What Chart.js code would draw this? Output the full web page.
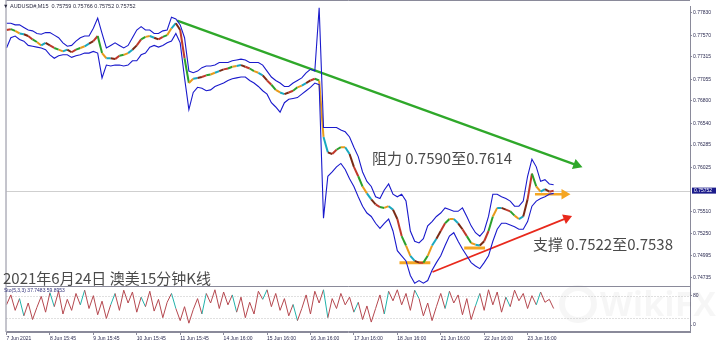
<!DOCTYPE html>
<html lang="zh-CN">
<head>
<meta charset="UTF-8" />
<title>AUDUSD M15</title>
<script src="https://cdn.jsdelivr.net/npm/chart.js"></script>
<style>
  html, body { margin: 0; padding: 0; background: #fff; }
  #wrap { width: 720px; height: 344px; }
</style>
</head>
<body>
<div id="wrap"><canvas id="myCanvas" width="720" height="344"></canvas></div>
<script>
  // x axis: one label every 10 samples
  const dateLabels = ['7 Jun 2021', '8 Jun 15:45', '9 Jun 15:45', '10 Jun 15:45', '11 Jun 15:45',
    '14 Jun 16:00', '15 Jun 16:00', '16 Jun 16:00', '17 Jun 16:00', '18 Jun 16:00',
    '21 Jun 16:00', '22 Jun 16:00', '23 Jun 16:00'];
  const samplesPerLabel = 10;

  const priceTicks = [0.77830, 0.77570, 0.77315, 0.77055, 0.76800, 0.76540, 0.76285, 0.76025,
    0.75510, 0.75250, 0.74995, 0.74735];
  const lastPrice = 0.75752;

  const closePrice = [
    0.7763, 0.7764, 0.7762, 0.7759, 0.7758, 0.7756, 0.7752, 0.7749, 0.7745, 0.7748,
    0.7745, 0.7742, 0.7740, 0.7738, 0.7740, 0.7737, 0.7740, 0.7742, 0.7744, 0.7747,
    0.7750, 0.7756, 0.7736, 0.7730, 0.7730, 0.7729, 0.7733, 0.7734, 0.7736, 0.7740,
    0.7745, 0.7752, 0.7755, 0.7756, 0.7754, 0.7752, 0.7755, 0.7757, 0.7765, 0.7771,
    0.7763, 0.7730, 0.7701, 0.7706, 0.7707, 0.7708, 0.7710, 0.7711, 0.7713, 0.7715,
    0.7717, 0.7718, 0.7720, 0.7721, 0.7722, 0.7720, 0.7718, 0.7715, 0.7713, 0.7710,
    0.7704, 0.7699, 0.7693, 0.7690, 0.7688, 0.7690, 0.7692, 0.7696, 0.7698, 0.7701,
    0.7704, 0.7706, 0.7704, 0.7638, 0.7620, 0.7618, 0.7623, 0.7626, 0.7626, 0.7618,
    0.7603, 0.7592, 0.7580, 0.7572, 0.7565, 0.7559, 0.7556, 0.7555, 0.7557, 0.7553,
    0.7542, 0.7522, 0.7511, 0.7499, 0.7493, 0.7491, 0.7491, 0.7499, 0.7511, 0.7519,
    0.7528, 0.7537, 0.7542, 0.7542, 0.7537, 0.7530, 0.7522, 0.7514, 0.7512, 0.7511,
    0.7516, 0.7528, 0.7545, 0.7555, 0.7555, 0.7553, 0.7551, 0.7546, 0.7542, 0.7545,
    0.7565, 0.7595, 0.7580, 0.7574, 0.7577, 0.7574, 0.7575
  ];

  const upperBand = [
    0.7771, 0.7771, 0.7769, 0.7769, 0.7766, 0.7763, 0.7762, 0.7759, 0.7758, 0.7760,
    0.7760, 0.7757, 0.7754, 0.7748, 0.7744, 0.7745, 0.7750, 0.7754, 0.7756, 0.7756,
    0.7765, 0.7777, 0.7759, 0.7742, 0.7745, 0.7748, 0.7745, 0.7742, 0.7745, 0.7754,
    0.7763, 0.7767, 0.7763, 0.7763, 0.7759, 0.7759, 0.7762, 0.7763, 0.7778, 0.7776,
    0.7769, 0.7754, 0.7715, 0.7713, 0.7715, 0.7719, 0.7721, 0.7721, 0.7722, 0.7725,
    0.7725, 0.7725, 0.7727, 0.7728, 0.7729, 0.7728, 0.7725, 0.7725, 0.7725, 0.7722,
    0.7715, 0.7708, 0.7704, 0.7701, 0.7697, 0.7697, 0.7701, 0.7704, 0.7707, 0.7713,
    0.7717, 0.7715, 0.7789, 0.7649, 0.7649, 0.7649, 0.7649, 0.7646, 0.7644, 0.7638,
    0.7626, 0.7615, 0.7597, 0.7586, 0.7580, 0.7568, 0.7566, 0.7576, 0.7583, 0.7571,
    0.7568, 0.7571, 0.7563, 0.7528, 0.7516, 0.7514, 0.7519, 0.7534, 0.7539, 0.7545,
    0.7549, 0.7555, 0.7553, 0.7551, 0.7551, 0.7555, 0.7545, 0.7534, 0.7526, 0.7522,
    0.7528, 0.7545, 0.7571, 0.7571, 0.7568, 0.7566, 0.7563, 0.7557, 0.7557, 0.7563,
    0.7592, 0.7612, 0.7603, 0.7586, 0.7588, 0.7583, 0.7582
  ];

  const lowerBand = [
    0.7742, 0.7754, 0.7756, 0.7752, 0.7750, 0.7745, 0.7744, 0.7743, 0.7742, 0.7740,
    0.7734, 0.7730, 0.7733, 0.7734, 0.7734, 0.7731, 0.7733, 0.7734, 0.7736, 0.7736,
    0.7738, 0.7736, 0.7707, 0.7722, 0.7721, 0.7722, 0.7722, 0.7721, 0.7722, 0.7727,
    0.7727, 0.7734, 0.7736, 0.7743, 0.7745, 0.7743, 0.7745, 0.7748, 0.7750, 0.7759,
    0.7748, 0.7707, 0.7670, 0.7690, 0.7696, 0.7695, 0.7692, 0.7693, 0.7697, 0.7699,
    0.7701, 0.7704, 0.7706, 0.7707, 0.7708, 0.7708, 0.7704, 0.7701, 0.7697, 0.7692,
    0.7688, 0.7678, 0.7673, 0.7667, 0.7678, 0.7682, 0.7683, 0.7684, 0.7688, 0.7692,
    0.7696, 0.7701, 0.7699, 0.7543, 0.7592, 0.7597, 0.7603, 0.7607, 0.7600, 0.7589,
    0.7580, 0.7568, 0.7557, 0.7549, 0.7545, 0.7537, 0.7531, 0.7537, 0.7542, 0.7528,
    0.7505, 0.7499, 0.7493, 0.7476, 0.7467, 0.7470, 0.7467, 0.7470, 0.7482, 0.7491,
    0.7499, 0.7511, 0.7522, 0.7526, 0.7516, 0.7507, 0.7499, 0.7491, 0.7487, 0.7484,
    0.7491, 0.7499, 0.7516, 0.7530, 0.7537, 0.7537, 0.7535, 0.7533, 0.7530, 0.7530,
    0.7539, 0.7557, 0.7563, 0.7566, 0.7568, 0.7571, 0.7572
  ];

  const stochMain = [
    55, 82, 40, 72, 25, 60, 15, 48, 78, 35,
    88, 50, 92, 30, 70, 40, 86, 55, 95, 45,
    80, 28, 65, 18, 55, 86, 40, 95, 60, 90,
    35, 76, 50, 92, 38, 70, 20, 62, 86, 45,
    12, 50, 5, 42, 72, 30, 86, 60, 96, 45,
    90, 55, 82, 35, 76, 20, 62, 30, 92, 70,
    96, 50, 86, 40, 72, 25, 56, 12, 45, 82,
    30, 92, 60, 96, 20, 72, 45, 86, 55, 76,
    35, 62, 15, 52, 8, 45, 82, 30, 92, 66,
    96, 55, 86, 40, 95, 72, 25, 60, 12, 50,
    86, 45, 92, 60, 82, 28, 72, 15, 52, 86,
    40, 96, 55, 90, 35, 76, 50, 95, 66, 86,
    45, 80, 55, 90, 62, 70, 45
  ];
  const stochLevels = [20, 80];

  // drawn lines: [sample index, price]
  const resistLine = [[39.3, 0.7774], [131.3, 0.7605]];
  const supportLine = [[98.1, 0.7480], [129.0, 0.7543]];
  const lastArrow = [[121.7, 0.7571], [128.5, 0.7571]];
  const lowMark1 = [[90.5, 0.7491], [97.6, 0.7491]];
  const lowMark2 = [[105.4, 0.7508], [110.2, 0.7508]];

  const clusterColors = ['#c0392b', '#2ca02c', '#e89a1a', '#19a9c0', '#7a2a14'];

  const pts = arr => arr.map((v, i) => ({ x: i, y: v }));
  const seg = arr => arr.map(p => ({ x: p[0], y: p[1] }));

  function line(data, color, width, extra) {
    return Object.assign({
      data: data, borderColor: color, borderWidth: width, pointRadius: 0,
      tension: 0, fill: false, yAxisID: 'y'
    }, extra || {});
  }

  const decor = {
    id: 'decor',
    beforeDatasetsDraw(chart) {
      const ctx = chart.ctx, a = chart.chartArea, y = chart.scales.y, y2 = chart.scales.y2;
      ctx.save();
      // watermark
      ctx.fillStyle = 'rgba(0,0,0,0.035)';
      ctx.font = 'bold 34px "Open Sans"';
      ctx.textBaseline = 'middle';
      ctx.fillText('WikiFX', 600, 306);
      ctx.strokeStyle = 'rgba(0,0,0,0.035)';
      ctx.lineWidth = 6;
      ctx.beginPath(); ctx.arc(578, 304, 16, 0, Math.PI * 2); ctx.stroke();
      // current price line
      const py = Math.round(y.getPixelForValue(lastPrice)) + 0.5;
      ctx.strokeStyle = '#cfcfcf'; ctx.lineWidth = 1;
      ctx.beginPath(); ctx.moveTo(a.left, py); ctx.lineTo(a.right, py); ctx.stroke();
      // stochastic levels
      ctx.setLineDash([1, 2]); ctx.strokeStyle = '#c0c0c0';
      stochLevels.forEach(v => {
        const ly = Math.round(y2.getPixelForValue(v)) + 0.5;
        ctx.beginPath(); ctx.moveTo(a.left, ly); ctx.lineTo(a.right, ly); ctx.stroke();
      });
      ctx.restore();
    },
    afterDatasetsDraw(chart) {
      const ctx = chart.ctx, a = chart.chartArea, y = chart.scales.y, y2 = chart.scales.y2;
      ctx.save();
      // panel frames
      ctx.strokeStyle = '#8a8a9a'; ctx.lineWidth = 1;
      ctx.beginPath();
      ctx.moveTo(a.left - 0.5, 0); ctx.lineTo(a.left - 0.5, a.bottom);
      ctx.moveTo(a.left, 0.5); ctx.lineTo(a.right, 0.5);
      ctx.moveTo(a.left, Math.round(y2.top) + 0.5); ctx.lineTo(a.right, Math.round(y2.top) + 0.5);
      ctx.moveTo(a.left, Math.round(a.bottom) - 0.5); ctx.lineTo(a.right, Math.round(a.bottom) - 0.5);
      ctx.stroke();
      // header and indicator captions
      ctx.textBaseline = 'middle';
      ctx.fillStyle = '#2a2a40';
      ctx.font = '5.5px "Liberation Sans"';
      ctx.fillText('\u25BC AUDUSD#,M15  0.75759 0.75766 0.75752 0.75752', 3, 6);
      ctx.fillStyle = '#30307a';
      ctx.font = '5px "Liberation Sans"';
      ctx.fillText('Sto(5,3,3) 37.7483 59.8953', 4, Math.round(y2.top) + 5);
      // annotation texts
      ctx.fillStyle = '#4a4a4a';
      ctx.font = '15px "Noto Sans CJK SC"';
      ctx.fillText('阻力 0.7590至0.7614', 372, 158);
      ctx.fillText('支撑 0.7522至0.7538', 533, 244);
      ctx.fillText('2021年6月24日 澳美15分钟K线', 3, 278);
      // last price box
      const py = y.getPixelForValue(lastPrice);
      ctx.fillStyle = '#1c1c8c';
      ctx.fillRect(a.right + 2, py - 3, 24, 6);
      ctx.fillStyle = '#fff';
      ctx.font = '5px "Liberation Sans"';
      ctx.fillText(lastPrice.toFixed(5), a.right + 4, py);
      ctx.restore();
    }
  };

  const tickFont = { family: 'Liberation Sans', size: 5 };

  const config = {
    type: 'line',
    data: {
      datasets: [
        line(pts(upperBand), '#1a1acc', 1.1),
        line(pts(lowerBand), '#1a1acc', 1.1),
        line(pts(closePrice), '#b03a2e', 2, {
          segment: { borderColor: c => clusterColors[c.p0DataIndex % clusterColors.length] }
        }),
        line(seg(resistLine), '#2fa82a', 2.2, {
          pointRadius: [0, 4], pointStyle: 'triangle', pointRotation: [0, 110],
          pointBackgroundColor: '#2fa82a', pointBorderColor: '#2fa82a'
        }),
        line(seg(supportLine), '#e8291c', 1.8, {
          pointRadius: [0, 4], pointStyle: 'triangle', pointRotation: [0, 68],
          pointBackgroundColor: '#e8291c', pointBorderColor: '#e8291c'
        }),
        line(seg(lastArrow), '#f5a623', 2.5, {
          pointRadius: [0, 3.5], pointStyle: 'triangle', pointRotation: [0, 90],
          pointBackgroundColor: '#f5a623', pointBorderColor: '#f5a623'
        }),
        line(seg(lowMark1), '#f5a623', 3),
        line(seg(lowMark2), '#f5a623', 3),
        line(pts(stochMain), '#b5484f', 1, {
          yAxisID: 'y2',
          segment: { borderColor: c => (c.p0DataIndex % 7 === 3 ? '#20b2aa' : '#b5484f') }
        })
      ]
    },
    options: {
      responsive: false,
      animation: false,
      devicePixelRatio: 1,
      layout: { padding: { top: 3, left: 2, right: 0, bottom: 0 } },
      plugins: { legend: { display: false }, tooltip: { enabled: false } },
      scales: {
        x: {
          type: 'linear', min: 0, max: 157.4,
          afterBuildTicks: ax => {
            ax.ticks = dateLabels.map((_, i) => ({ value: i * samplesPerLabel }));
          },
          afterFit: ax => { ax.height = 12; },
          ticks: {
            autoSkip: false, maxRotation: 0, align: 'start', padding: 1,
            color: '#2a2a50', font: tickFont,
            callback: v => dateLabels[Math.round(v / samplesPerLabel)]
          },
          grid: { drawOnChartArea: false, tickLength: 3, color: '#8a8a9a' },
          border: { color: '#8a8a9a' }
        },
        y: {
          position: 'right', stack: 'panes', stackWeight: 283,
          min: 0.74631, max: 0.77905,
          afterBuildTicks: ax => { ax.ticks = priceTicks.map(v => ({ value: v })); },
          afterFit: ax => { ax.width = 30; },
          ticks: { color: '#2a2a50', font: tickFont, padding: 1, callback: v => v.toFixed(5) },
          grid: { drawOnChartArea: false, tickLength: 2, color: '#8a8a9a' },
          border: { color: '#8a8a9a' }
        },
        y2: {
          position: 'right', stack: 'panes', stackWeight: 46,
          min: -19, max: 105,
          afterBuildTicks: ax => { ax.ticks = [0, 20, 80, 100].map(v => ({ value: v })); },
          afterFit: ax => { ax.width = 30; },
          ticks: { color: '#2a2a50', font: tickFont, padding: 1 },
          grid: { drawOnChartArea: false, tickLength: 2, color: '#8a8a9a' },
          border: { color: '#8a8a9a' }
        }
      }
    },
    plugins: [decor]
  };

  new Chart(document.getElementById('myCanvas'), config);
</script>
</body>
</html>
